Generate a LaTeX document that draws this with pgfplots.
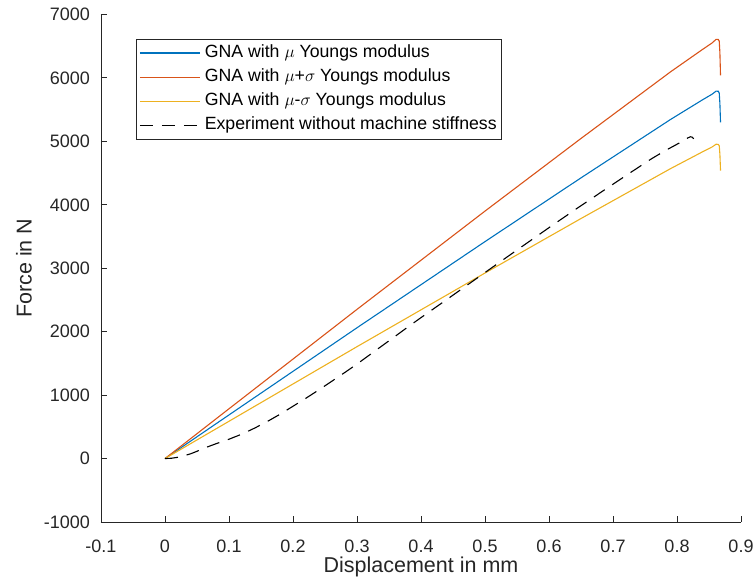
\documentclass[border=0pt]{standalone}
\usepackage{pgfplots}
\pgfplotsset{compat=1.18}
\usepackage{fontspec}
\setmainfont{Liberation Sans}
\definecolor{mblue}{rgb}{0,0.447,0.741}
\definecolor{mred}{rgb}{0.850,0.325,0.098}
\definecolor{myellow}{rgb}{0.929,0.694,0.125}
\definecolor{axgray}{rgb}{0.15,0.15,0.15}
\begin{document}
\begin{tikzpicture}
\begin{axis}[
  scale only axis, width=640pt, height=507.5pt,
  xmin=-0.1, xmax=0.9, ymin=-1000, ymax=7000,
  xtick={-0.1,0,0.1,0.2,0.3,0.4,0.5,0.6,0.7,0.8,0.9},
  xticklabels={-0.1,0,0.1,0.2,0.3,0.4,0.5,0.6,0.7,0.8,0.9},
  ytick={-1000,0,1000,2000,3000,4000,5000,6000,7000},
  yticklabels={-1000,0,1000,2000,3000,4000,5000,6000,7000},
  axis x line*=bottom, axis y line*=left,
  tick align=inside, major tick length=6.4pt,
  axis line style={color=axgray, line width=0.9pt},
  tick style={color=axgray, line width=0.9pt},
  xticklabel style={font=\fontsize{18}{21}\selectfont, text=axgray, inner sep=0pt, anchor=north, yshift=-18pt},
  yticklabel style={font=\fontsize{18}{21}\selectfont, text=axgray, inner sep=0pt, anchor=east, xshift=-11pt},
  xlabel={Displacement in mm}, ylabel={Force in N},
  xlabel style={font=\fontsize{21.5}{26}\selectfont, text=axgray, at={(axis description cs:0.5,-0.0999)}, anchor=base, inner sep=0pt},
  ylabel style={font=\fontsize{21.5}{26}\selectfont, text=axgray, at={(axis description cs:-0.1083,0.5)}, anchor=base, inner sep=0pt, rotate=0},
  legend style={at={(axis description cs:0.0545,0.9517)}, anchor=north west,
    draw=axgray, line width=0.7pt, fill=white,
    font=\fontsize{17.7}{20}\selectfont, text=black,
    inner xsep=3pt, inner ysep=1.5pt, row sep=0pt, column sep=2.5pt,
    nodes={inner xsep=2pt, inner ysep=3.35pt, text depth=4.5pt, text height=13pt}},
  legend cell align=left,
  legend image code/.code={\draw[#1, line width=1.1pt] plot coordinates {(0pt,0pt) (30pt,0pt) (60pt,0pt)};},
]
\coordinate (O) at (rel axis cs:0,0);
\addplot[mblue, line width=1.1pt] coordinates {(0,0) (0.1,688) (0.3,2062) (0.5,3420) (0.65,4425) (0.79,5346) (0.84,5656) (0.855,5745) (0.861,5792) (0.8645,5790) (0.866,5760) (0.867,5600) (0.868,5300)};
\addlegendentry{GNA with $\mu$ Youngs modulus}
\addplot[mred, line width=1.1pt] coordinates {(0,0) (0.1,785) (0.3,2352) (0.5,3901) (0.65,5046) (0.79,6097) (0.84,6450) (0.855,6553) (0.861,6608) (0.8645,6606) (0.866,6580) (0.867,6400) (0.868,6040)};
\addlegendentry{GNA with $\mu$+$\sigma$ Youngs modulus}
\addplot[myellow, line width=1.1pt] coordinates {(0,0) (0.1,588) (0.3,1764) (0.5,2925) (0.65,3784) (0.79,4571) (0.84,4836) (0.855,4913) (0.861,4955) (0.8645,4953) (0.866,4930) (0.867,4800) (0.868,4540)};
\addlegendentry{GNA with $\mu$-$\sigma$ Youngs modulus}
\addplot[black, line width=1.1pt, dash pattern=on 13pt off 9pt] coordinates {
(0,0) (0.01,5) (0.02,20) (0.03,45) (0.04,75) (0.05,115) (0.06,160) (0.08,235) (0.10,305)
(0.12,385) (0.14,480) (0.16,585) (0.18,700) (0.20,825) (0.22,950) (0.24,1080) (0.26,1215)
(0.28,1350) (0.30,1490) (0.33,1710) (0.36,1930) (0.38,2078) (0.40,2222) (0.44,2505)
(0.48,2790) (0.52,3075) (0.56,3358) (0.60,3640) (0.64,3918) (0.68,4190) (0.72,4460)
(0.76,4725) (0.78,4845) (0.80,4955) (0.81,5010) (0.817,5055) (0.821,5073) (0.824,5065) (0.826,5040)};
\addlegendentry{Experiment without machine stiffness}
\end{axis}
\pgfresetboundingbox
\path (O) ++(-101pt,-65pt) rectangle ++(754pt,587pt);
\end{tikzpicture}
\end{document}
